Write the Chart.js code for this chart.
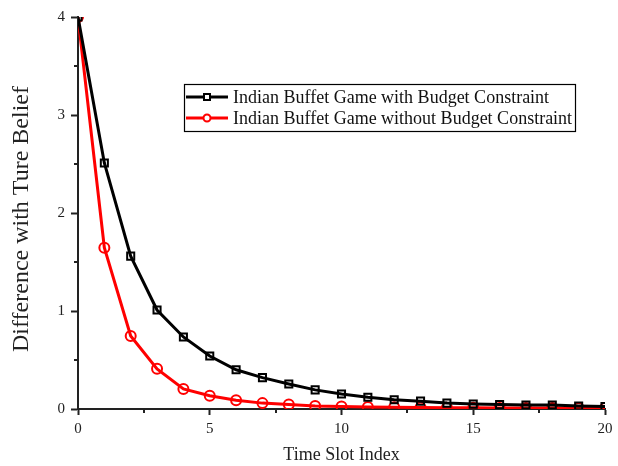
<!DOCTYPE html>
<html>
<head>
<meta charset="utf-8">
<script src="https://cdn.jsdelivr.net/npm/chart.js@4"></script>
<style>
  html, body { margin: 0; padding: 0; background: #fff; }
  #wrap { width: 618px; height: 466px; }
</style>
</head>
<body>
<div id="wrap"><canvas id="c" width="618" height="466"></canvas></div>
<script>
const timeSlots = [0,1,2,3,4,5,6,7,8,9,10,11,12,13,14,15,16,17,18,19,20];
const withBudget = [4.0,2.51,1.56,1.01,0.735,0.54,0.40,0.32,0.255,0.195,0.153,0.12,0.095,0.08,0.06,0.05,0.045,0.04,0.04,0.03,0.025];
const withoutBudget = [4.0,1.645,0.745,0.41,0.205,0.135,0.09,0.06,0.045,0.03,0.025,0.02,0.017,0.015,0.013,0.012,0.011,0.01,0.01,0.01,0.01];
const seriesLabels = ["Indian Buffet Game with Budget Constraint", "Indian Buffet Game without Budget Constraint"];
const xTicks = [0,5,10,15,20];
const yTicks = [0,1,2,3,4];
const xTitle = 'Time Slot Index';
const yTitle = 'Difference with Ture Belief';

const FONT = "'Liberation Serif', 'Times New Roman', serif";
const AXIS_COLOR = '#222';

const minorTicks = {
  id: 'minorTicks',
  afterDraw(chart) {
    const ctx = chart.ctx;
    const xs = chart.scales.x, ys = chart.scales.y;
    ctx.save();
    ctx.strokeStyle = AXIS_COLOR;
    ctx.lineWidth = 2;
    for (let v = 0.5; v < 4; v += 1) {
      const py = Math.round(ys.getPixelForValue(v));
      ctx.beginPath();
      ctx.moveTo(xs.left - 4, py);
      ctx.lineTo(xs.left, py);
      ctx.stroke();
    }
    for (let v = 2.5; v < 20; v += 5) {
      const px = Math.round(xs.getPixelForValue(v));
      ctx.beginPath();
      ctx.moveTo(px, ys.bottom);
      ctx.lineTo(px, ys.bottom + 4);
      ctx.stroke();
    }
    // y axis title
    ctx.translate(22, 219);
    ctx.rotate(-Math.PI / 2);
    ctx.fillStyle = '#222';
    ctx.font = '24px ' + FONT;
    ctx.textAlign = 'center';
    ctx.textBaseline = 'middle';
    ctx.fillText(yTitle, 0, 0);
    ctx.restore();
  }
};

const boxLegend = {
  id: 'boxLegend',
  afterDraw(chart) {
    const ctx = chart.ctx;
    const x0 = 184, y0 = 84, w = 391, h = 47;
    ctx.save();
    ctx.fillStyle = '#fff';
    ctx.fillRect(x0, y0, w, h);
    ctx.strokeStyle = '#000';
    ctx.lineWidth = 1.2;
    ctx.strokeRect(x0 + 0.5, y0 + 0.5, w, h);
    chart.data.datasets.forEach((ds, i) => {
      const yy = y0 + 13 + i * 21;
      ctx.strokeStyle = ds.borderColor;
      ctx.lineWidth = 3;
      ctx.beginPath();
      ctx.moveTo(x0 + 2, yy);
      ctx.lineTo(x0 + 44, yy);
      ctx.stroke();
      ctx.lineWidth = 2;
      ctx.fillStyle = '#fff';
      if (ds.pointStyle === 'rect') {
        ctx.fillRect(x0 + 20, yy - 3, 6, 6);
        ctx.strokeRect(x0 + 20, yy - 3, 6, 6);
      } else {
        ctx.beginPath();
        ctx.arc(x0 + 23, yy, 3.5, 0, Math.PI * 2);
        ctx.fill();
        ctx.stroke();
      }
      ctx.fillStyle = '#111';
      ctx.font = '18px ' + FONT;
      ctx.textBaseline = 'middle';
      ctx.textAlign = 'left';
      ctx.fillText(ds.label, x0 + 49, yy + 1);
    });
    ctx.restore();
  }
};

new Chart(document.getElementById('c'), {
  type: 'line',
  data: {
    labels: timeSlots,
    datasets: [
      {
        label: seriesLabels[0],
        data: timeSlots.map((t, i) => ({x: t, y: withBudget[i]})),
        borderColor: '#000',
        backgroundColor: 'rgba(255,255,255,0)',
        borderWidth: 3,
        pointStyle: 'rect',
        pointRadius: 5,
        pointBorderWidth: 2,
        pointBorderColor: '#000',
        pointBackgroundColor: 'rgba(255,255,255,0)',
        tension: 0
      },
      {
        label: seriesLabels[1],
        data: timeSlots.map((t, i) => ({x: t, y: withoutBudget[i]})),
        borderColor: '#ff0000',
        backgroundColor: 'rgba(255,255,255,0)',
        borderWidth: 3,
        pointStyle: 'circle',
        pointRadius: 5,
        pointBorderWidth: 2,
        pointBorderColor: '#ff0000',
        pointBackgroundColor: 'rgba(255,255,255,0)',
        tension: 0
      }
    ]
  },
  options: {
    responsive: false,
    animation: false,
    devicePixelRatio: 1,
    layout: { padding: { top: 17, right: 13, left: 0, bottom: 0 } },
    plugins: { legend: { display: false }, tooltip: { enabled: false } },
    scales: {
      x: {
        type: 'linear',
        min: 0, max: 20,
        afterFit(s) { s.height = 57; },
        afterBuildTicks(s) { s.ticks = xTicks.map(v => ({value: v})); },
        border: { display: true, color: AXIS_COLOR, width: 2 },
        grid: { display: true, drawOnChartArea: false, drawTicks: true, tickLength: 6, tickColor: AXIS_COLOR, tickWidth: 2 },
        ticks: { color: '#222', font: { family: FONT, size: 15 }, padding: 5, maxRotation: 0 },
        title: { display: true, text: xTitle, color: '#222', font: { family: FONT, size: 18 }, padding: { top: 5, bottom: 0 } }
      },
      y: {
        type: 'linear',
        min: 0, max: 4,
        afterFit(s) { s.width = 78; },
        afterBuildTicks(s) { s.ticks = yTicks.map(v => ({value: v})); },
        border: { display: true, color: AXIS_COLOR, width: 2 },
        grid: { display: true, drawOnChartArea: false, drawTicks: true, tickLength: 7, tickColor: AXIS_COLOR, tickWidth: 2 },
        ticks: { color: '#222', font: { family: FONT, size: 15 }, padding: 6 },
        title: { display: false }
      }
    }
  },
  plugins: [minorTicks, boxLegend]
});
</script>
</body>
</html>
